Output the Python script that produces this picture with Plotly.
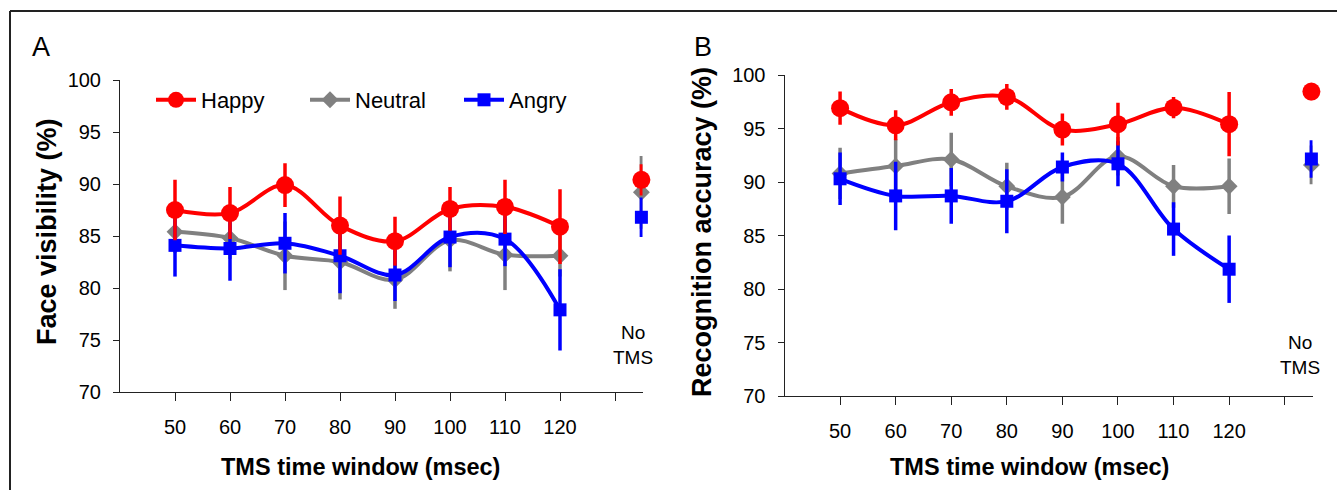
import plotly.graph_objects as go

W, H = 1337, 490

times = [50, 60, 70, 80, 90, 100, 110, 120]
tick_vals = [50, 60, 70, 80, 90, 100, 110, 120, 130]
tick_text = ["50", "60", "70", "80", "90", "100", "110", "120", ""]
no_tms_x = [134.8]

# Panel A: face visibility (%)
happy_vis = [87.5, 87.2, 89.9, 86.0, 84.5, 87.6, 87.8, 85.9]
happy_vis_err = [2.9, 2.5, 2.1, 2.8, 2.35, 2.1, 2.6, 3.6]
neutral_vis = [85.4, 84.8, 83.1, 82.5, 80.8, 84.6, 83.2, 83.1]
neutral_vis_err = [2.0, 2.0, 3.3, 3.6, 2.8, 3.0, 3.4, 2.0]
angry_vis = [84.1, 83.8, 84.3, 83.1, 81.25, 84.9, 84.7, 77.9]
angry_vis_err = [3.0, 3.1, 2.9, 3.6, 2.5, 2.9, 2.6, 3.9]
notms_vis = {"Happy": (90.4, 1.5), "Neutral": (89.2, 3.5), "Angry": (86.8, 1.9)}

# Panel B: recognition accuracy (%)
happy_acc = [96.9, 95.3, 97.45, 97.95, 94.9, 95.4, 96.95, 95.4]
happy_acc_err = [1.55, 1.4, 1.25, 1.2, 1.5, 2.0, 1.0, 3.0]
neutral_acc = [90.8, 91.5, 92.1, 89.6, 88.6, 92.4, 89.6, 89.6]
neutral_acc_err = [2.4, 2.5, 2.5, 2.2, 2.5, 1.8, 2.0, 2.6]
angry_acc = [90.3, 88.7, 88.7, 88.2, 91.4, 91.7, 85.6, 81.85]
angry_acc_err = [2.45, 3.2, 2.6, 3.0, 1.35, 2.1, 2.5, 3.15]
notms_acc = {"Happy": (98.45, 0.8), "Neutral": (91.6, 1.8), "Angry": (92.15, 1.75)}

styles = {
    "Happy": dict(color="#FF0000", symbol="circle", size=18, rank=1),
    "Neutral": dict(color="#808080", symbol="diamond", size=13, rank=2),
    "Angry": dict(color="#0000FF", symbol="square", size=13, rank=3),
}

FONT = "Liberation Sans, Arial, sans-serif"

fig = go.Figure()

panels = [
    ("x", "y", {"Happy": (happy_vis, happy_vis_err), "Neutral": (neutral_vis, neutral_vis_err),
                "Angry": (angry_vis, angry_vis_err)}, notms_vis, True),
    ("x2", "y2", {"Happy": (happy_acc, happy_acc_err), "Neutral": (neutral_acc, neutral_acc_err),
                  "Angry": (angry_acc, angry_acc_err)}, notms_acc, False),
]

for xa, ya, series, notms, show in panels:
    for name in ["Neutral", "Angry", "Happy"]:
        st = styles[name]
        vals, errs = series[name]
        fig.add_trace(go.Scatter(
            x=times, y=vals, xaxis=xa, yaxis=ya, name=name,
            mode="lines+markers", line=dict(color=st["color"], width=4, shape="spline"),
            marker=dict(symbol=st["symbol"], size=st["size"], color=st["color"]),
            error_y=dict(type="data", array=errs, visible=True, color=st["color"], thickness=3.5, width=0),
            showlegend=show, legendrank=st["rank"], cliponaxis=False,
        ))
        v, e = notms[name]
        fig.add_trace(go.Scatter(
            x=no_tms_x, y=[v], xaxis=xa, yaxis=ya, name=name,
            mode="markers",
            marker=dict(symbol=st["symbol"], size=st["size"], color=st["color"]),
            error_y=dict(type="data", array=[e], visible=True, color=st["color"], thickness=3.5, width=0),
            showlegend=False, cliponaxis=False,
        ))

axis_common = dict(showgrid=False, zeroline=False, showline=True, linecolor="#222222", linewidth=1,
                   ticks="outside", tickcolor="#222222", tickwidth=1, automargin=False,
                   tickfont=dict(family=FONT, size=20, color="black"))

xaxis_common = dict(axis_common, range=[40, 135], tickmode="array", tickvals=tick_vals,
                    ticktext=tick_text, ticklen=8, ticklabelstandoff=9)
yaxis_common = dict(axis_common, range=[70, 100], tickmode="array",
                    tickvals=[70, 75, 80, 85, 90, 95, 100], ticklen=6, ticklabelstandoff=8)

fig.update_layout(
    width=W, height=H, autosize=False,
    margin=dict(l=0, r=0, t=0, b=0, pad=0, autoexpand=False),
    paper_bgcolor="white", plot_bgcolor="white",
    xaxis=dict(xaxis_common, domain=[120 / W, 642.5 / W], anchor="y"),
    yaxis=dict(yaxis_common, domain=[1 - 392 / H, 1 - 80 / H], anchor="x"),
    xaxis2=dict(xaxis_common, domain=[784.5 / W, 1312.5 / W], anchor="y2"),
    yaxis2=dict(yaxis_common, domain=[1 - 396 / H, 1 - 75 / H], anchor="x2"),
    legend=dict(orientation="h", x=151 / W, y=1 - 100 / H, xanchor="left", yanchor="middle",
                font=dict(family=FONT, size=22, color="black"), bgcolor="rgba(0,0,0,0)",
                entrywidth=99, entrywidthmode="pixels", itemwidth=40),
    font=dict(family=FONT, color="black"),
)

ann = []
# axis titles
ann.append(dict(text="<b>Face visibility (%)</b>", x=47 / W, y=1 - 232 / H, textangle=-90, font_size=27))
ann.append(dict(text="<b>Recognition accuracy (%)</b>", x=702 / W, y=1 - 232 / H, textangle=-90, font_size=27))
ann.append(dict(text="<b>TMS time window (msec)</b>", x=360 / W, y=1 - 467 / H, font_size=23.5))
ann.append(dict(text="<b>TMS time window (msec)</b>", x=1029 / W, y=1 - 467 / H, font_size=23.5))
# panel letters
ann.append(dict(text="A", x=41 / W, y=1 - 47 / H, font_size=27))
ann.append(dict(text="B", x=703 / W, y=1 - 47 / H, font_size=27))
# No TMS labels
ann.append(dict(text="No<br>TMS", x=633 / W, y=1 - 345 / H, font_size=19))
ann.append(dict(text="No<br>TMS", x=1300 / W, y=1 - 355 / H, font_size=19))
for a in ann:
    a.update(xref="paper", yref="paper", showarrow=False, xanchor="center", yanchor="middle",
             font=dict(family=FONT, size=a.pop("font_size"), color="black"))
fig.update_layout(annotations=ann)

# figure frame (top and left edges)
fig.add_shape(type="line", xref="paper", yref="paper", x0=10 / W, x1=1, y0=1 - 11 / H, y1=1 - 11 / H,
              line=dict(color="#222222", width=2))
fig.add_shape(type="line", xref="paper", yref="paper", x0=10 / W, x1=10 / W, y0=0, y1=1 - 11 / H,
              line=dict(color="#222222", width=2))

fig.write_html("out.html")
